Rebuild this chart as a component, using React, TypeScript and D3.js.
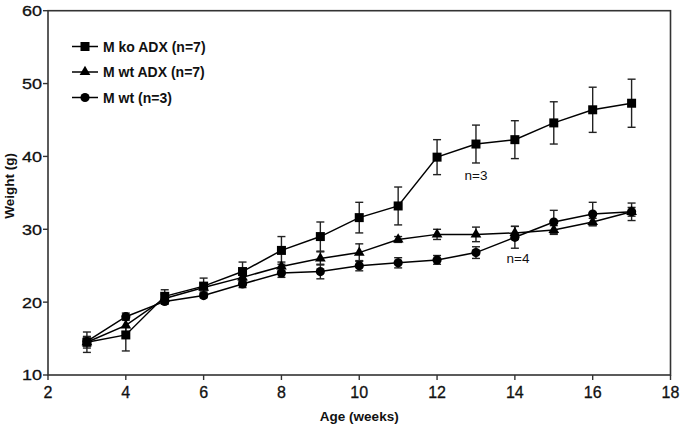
import React from "react";
import * as d3 from "d3";

const weeks = [3, 4, 5, 6, 7, 8, 9, 10, 11, 12, 13, 14, 15, 16, 17];
const koMean = [14.5, 15.5, 20.8, 22.2, 24.2, 27.1, 29.0, 31.6, 33.2, 39.9, 41.7, 42.3, 44.6, 46.4, 47.3];
const koErr = [1.4, 2.2, 0.9, 1.1, 1.3, 1.9, 2.0, 2.1, 2.6, 2.4, 2.6, 2.6, 2.9, 3.1, 3.3];
const wtAdxMean = [14.5, 16.8, 20.5, 22.0, 23.4, 24.9, 26.0, 26.8, 28.6, 29.3, 29.3, 29.5, 29.9, 31.0, 32.4];
const wtAdxErr = [0.8, 0.9, 0.6, 0.6, 0.6, 0.6, 0.9, 1.2, 0.4, 0.7, 1.0, 0.9, 0.6, 0.5, 0.6];
const wtMean = [14.6, 18.0, 20.1, 20.9, 22.5, 24.0, 24.2, 25.0, 25.4, 25.8, 26.8, 28.9, 31.0, 32.1, 32.4];
const wtErr = [0.6, 0.5, 0.4, 0.3, 0.5, 0.6, 1.0, 0.7, 0.7, 0.6, 0.8, 1.5, 1.6, 1.6, 1.2];

const xTicks = [2, 4, 6, 8, 10, 12, 14, 16, 18];
const yTicks = [10, 20, 30, 40, 50, 60];
const seriesNames = ["M ko ADX (n=7)", "M wt ADX (n=7)", "M wt (n=3)"];
const markerTypes = ["square", "triangle", "circle"];
const annotations = [
  { text: "n=3", x: 13.0, y: 36.8 },
  { text: "n=4", x: 14.08, y: 25.4 },
];

const W = 683;
const H = 428;
const FONT = "'Liberation Sans', Arial, Helvetica, sans-serif";

export default function App() {
  const left = 48, right = 670.5, top = 10.7, bottom = 375;
  const x = d3.scaleLinear().domain([2, 18]).range([left, right]);
  const y = d3.scaleLinear().domain([10, 60]).range([bottom, top]);

  const series = [
    { mean: koMean, err: koErr, marker: markerTypes[0] },
    { mean: wtAdxMean, err: wtAdxErr, marker: markerTypes[1] },
    { mean: wtMean, err: wtErr, marker: markerTypes[2] },
  ];

  const line = d3
    .line<number>()
    .x((_, i) => x(weeks[i]))
    .y((d) => y(d));

  const marker = (type: string, cx: number, cy: number, key: string) => {
    if (type === "square") {
      const s = 9;
      return <rect key={key} x={cx - s / 2} y={cy - s / 2} width={s} height={s} fill="#000" />;
    }
    if (type === "triangle") {
      const p = d3.symbol().type(d3.symbolTriangle).size(50)();
      return <path key={key} d={p || ""} transform={`translate(${cx},${cy})`} fill="#000" />;
    }
    return <circle key={key} cx={cx} cy={cy} r={4.6} fill="#000" />;
  };

  const cap = 4;

  return (
    <svg
      width={W}
      height={H}
      style={{ position: "absolute", left: 0, top: 0, background: "#fff" }}
      fontFamily={FONT}
    >
      <rect x={0} y={0} width={W} height={H} fill="#fff" />
      {/* frame */}
      <rect x={left} y={top} width={right - left} height={bottom - top} fill="none" stroke="#333" strokeWidth={1.6} />

      {/* y ticks */}
      {yTicks.map((t) => (
        <g key={"y" + t}>
          <line x1={left - 5} x2={left} y1={y(t)} y2={y(t)} stroke="#333" strokeWidth={1.4} />
          <text
            transform={`translate(${left - 6},${y(t)}) scale(1.2,1)`}
            dy="0.36em"
            textAnchor="end"
            fontSize={15}
            fill="#111"
            stroke="#111"
            strokeWidth={0.3}
          >
            {t}
          </text>
        </g>
      ))}
      {/* x ticks */}
      {xTicks.map((t) => (
        <g key={"x" + t}>
          <line x1={x(t)} x2={x(t)} y1={bottom} y2={bottom + 5} stroke="#333" strokeWidth={1.4} />
          <text
            x={x(t)}
            y={bottom + 23}
            textAnchor="middle"
            fontSize={16}
            fill="#111"
            stroke="#111"
            strokeWidth={0.3}
          >
            {t}
          </text>
        </g>
      ))}

      <text x={(left + right) / 2} y={421} textAnchor="middle" fontSize={13.5} fontWeight="bold" fill="#111">
        Age (weeks)
      </text>
      <text
        transform={`translate(13.5,186) rotate(-90)`}
        textAnchor="middle"
        fontSize={13.5}
        fontWeight="bold"
        fill="#111"
      >
        Weight (g)
      </text>

      {/* lines */}
      {series.map((s, si) => (
        <path key={"l" + si} d={line(s.mean) || ""} fill="none" stroke="#000" strokeWidth={1.5} />
      ))}
      {/* error bars */}
      {series.map((s, si) =>
        s.mean.map((m, i) => {
          const cx = x(weeks[i]);
          const y1 = y(m + s.err[i]);
          const y2 = y(m - s.err[i]);
          return (
            <g key={`e${si}-${i}`} stroke="#222" strokeWidth={1.4}>
              <line x1={cx} x2={cx} y1={y1} y2={y2} />
              <line x1={cx - cap} x2={cx + cap} y1={y1} y2={y1} />
              <line x1={cx - cap} x2={cx + cap} y1={y2} y2={y2} />
            </g>
          );
        })
      )}
      {/* markers */}
      {series.map((s, si) => s.mean.map((m, i) => marker(s.marker, x(weeks[i]), y(m), `m${si}-${i}`)))}

      {/* annotations */}
      {annotations.map((a) => (
        <text key={a.text} x={x(a.x)} y={y(a.y)} textAnchor="middle" fontSize={13.5} fill="#111">
          {a.text}
        </text>
      ))}

      {/* legend */}
      {seriesNames.map((name, i) => {
        const ly = 46.5 + i * 25.5;
        return (
          <g key={"lg" + i}>
            <line x1={72} x2={98} y1={ly} y2={ly} stroke="#000" strokeWidth={1.5} />
            {marker(markerTypes[i], 85, ly, "lm" + i)}
            <text x={103} y={ly} dy="0.36em" fontSize={14} fontWeight="bold" fill="#111">
              {name}
            </text>
          </g>
        );
      })}
    </svg>
  );
}
